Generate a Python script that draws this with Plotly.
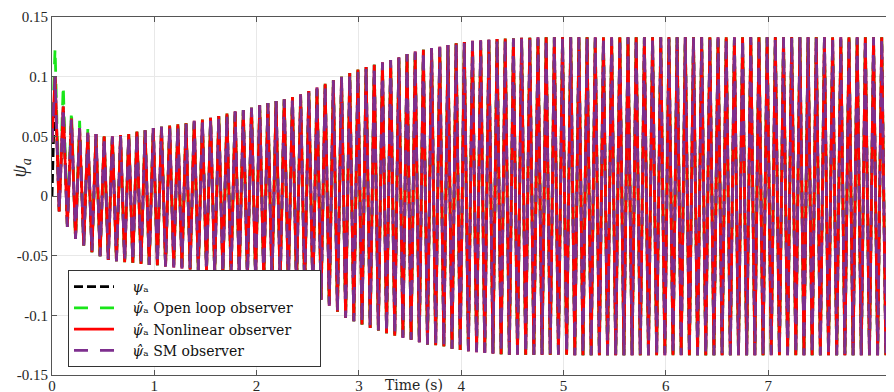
import plotly.graph_objects as go

# ---------------- data ----------------
period = 0.08          # s, one oscillation cycle
first_peak_t = 0.03    # s, time of the first upper peak

# upper peak value of each cycle (nonlinear / SM observer)
upper_peaks = [
    0.100, 0.075, 0.065, 0.057, 0.053, 0.052, 0.050, 0.050, 0.051, 0.052,
    0.054, 0.055, 0.057, 0.058, 0.059, 0.060, 0.061, 0.063, 0.064, 0.0655,
    0.067, 0.069, 0.071, 0.072, 0.074, 0.076, 0.078, 0.0795, 0.081, 0.083,
    0.085, 0.088, 0.091, 0.094, 0.097, 0.100, 0.103, 0.106, 0.108, 0.110,
    0.112, 0.114, 0.116, 0.119, 0.121, 0.1225, 0.124, 0.125, 0.1265, 0.128,
    0.129, 0.130, 0.1305, 0.131, 0.1315, 0.132, 0.132, 0.1325, 0.1325, 0.133,
    0.133, 0.133, 0.133, 0.133, 0.133, 0.133, 0.133, 0.133, 0.133, 0.133,
    0.133, 0.133, 0.133, 0.133, 0.133, 0.133, 0.133, 0.133, 0.133, 0.133,
    0.133, 0.133, 0.133, 0.133, 0.133, 0.133, 0.133, 0.133, 0.133, 0.133,
    0.133, 0.133, 0.133, 0.133, 0.133, 0.133, 0.133, 0.133, 0.133, 0.133,
    0.133, 0.133, 0.133,
]

# lower trough value of each cycle
lower_troughs = [
    -0.013, -0.026, -0.036, -0.0415, -0.047, -0.0505, -0.0535, -0.0546, -0.0555, -0.056,
    -0.057, -0.0577, -0.058, -0.059, -0.0598, -0.0607, -0.0616, -0.0625, -0.0633, -0.0644,
    -0.0652, -0.0664, -0.0675, -0.0686, -0.070, -0.0714, -0.0728, -0.0742, -0.0756, -0.077,
    -0.0784, -0.082, -0.087, -0.092, -0.097, -0.102, -0.105, -0.1077, -0.1105, -0.1127,
    -0.115, -0.117, -0.119, -0.1205, -0.1225, -0.1245, -0.125, -0.126, -0.128, -0.129,
    -0.130, -0.131, -0.1315, -0.132, -0.1325, -0.133, -0.133, -0.133, -0.133, -0.133,
    -0.133, -0.133, -0.133, -0.1335, -0.1335, -0.1335, -0.1335, -0.1335, -0.1335, -0.1335,
    -0.1335, -0.1335, -0.1335, -0.1335, -0.1335, -0.1335, -0.1335, -0.1335, -0.1335, -0.1335,
    -0.1335, -0.1335, -0.1335, -0.1335, -0.1335, -0.1335, -0.1335, -0.1335, -0.1335, -0.1335,
    -0.1335, -0.1335, -0.1335, -0.1335, -0.1335, -0.1335, -0.1335, -0.1335, -0.1335, -0.1335,
    -0.1335, -0.1335, -0.1335,
]

# open-loop observer overshoots on the first peaks
open_loop_early_peaks = [0.124, 0.093, 0.072, 0.063, 0.056]

start_true = 0.0        # psi_a at t = 0
start_observer = 0.045  # observers at t = 0

x_ticks = [0, 1, 2, 3, 4, 5, 6, 7]
y_ticks = [-0.15, -0.1, -0.05, 0, 0.05, 0.1, 0.15]
y_tick_text = ["-0.15", "-0.1", "-0.05", "0", "0.05", "0.1", "0.15"]


def build(start, ups, lows):
    t, y = [0.0], [start]
    for k in range(len(ups)):
        t.append(first_peak_t + k * period)
        y.append(ups[k])
        t.append(first_peak_t + (k + 0.5) * period)
        y.append(lows[k])
    return t, y


green_ups = open_loop_early_peaks + upper_peaks[len(open_loop_early_peaks):]

t_true, y_true = build(start_true, upper_peaks, lower_troughs)
t_ol, y_ol = build(start_observer, green_ups, lower_troughs)
t_nl, y_nl = build(start_observer, upper_peaks, lower_troughs)
t_sm, y_sm = build(start_observer, upper_peaks, lower_troughs)

TIMES = "Liberation Serif, Times New Roman, serif"
LATEX = "DejaVu Serif, serif"
NB = "\u00a0"
lead = NB * 3
trail = NB * 5
psi_leg = lead + "<i>ψ</i>ₐ"
psihat_leg = lead + "<i>ψ̂</i>ₐ"
psi_axis = "<i>ψ</i><sub><i>a</i></sub>"

LW = 2.8
fig = go.Figure()
fig.add_trace(go.Scatter(x=t_true, y=y_true, mode="lines", name=psi_leg,
                         line=dict(color="#000000", width=LW, dash="9px,4px")))
fig.add_trace(go.Scatter(x=t_ol, y=y_ol, mode="lines",
                         name=psihat_leg + " Open loop observer" + trail,
                         line=dict(color="#19e619", width=LW, dash="14px,12px")))
fig.add_trace(go.Scatter(x=t_nl, y=y_nl, mode="lines",
                         name=psihat_leg + " Nonlinear observer",
                         line=dict(color="#ff0000", width=LW)))
fig.add_trace(go.Scatter(x=t_sm, y=y_sm, mode="lines",
                         name=psihat_leg + " SM observer",
                         line=dict(color="#7e2f8e", width=LW, dash="14px,12px")))

# the page body has an 8px margin: plot area lands at x 52..894, y 17..375 on screen
fig.update_layout(
    width=894, height=392,
    margin=dict(l=44, r=8, t=9, b=25),
    paper_bgcolor="white", plot_bgcolor="white",
    font=dict(family=TIMES, size=15, color="#262626"),
    showlegend=True,
    legend=dict(x=0.019, y=0.022, xanchor="left", yanchor="bottom",
                bgcolor="white", bordercolor="#333333", borderwidth=1,
                font=dict(family=LATEX, size=14, color="#111111"),
                tracegroupgap=0, itemwidth=40),
    xaxis=dict(range=[0, 8.23], tickvals=x_ticks, ticktext=[str(v) for v in x_ticks],
               showgrid=True, gridcolor="#e8e8e8", gridwidth=1, zeroline=False,
               showline=True, linecolor="#555555", linewidth=1, mirror="ticks",
               ticks="inside", ticklen=5, tickcolor="#555555", ticklabelstandoff=-3,
               tickfont=dict(family=TIMES, size=15, color="#262626"), automargin=False),
    yaxis=dict(range=[-0.15, 0.15], tickvals=y_ticks, ticktext=y_tick_text,
               showgrid=True, gridcolor="#e8e8e8", gridwidth=1, zeroline=False,
               showline=True, linecolor="#555555", linewidth=1,
               ticks="inside", ticklen=5, tickcolor="#555555",
               tickfont=dict(family=TIMES, size=15, color="#262626"), automargin=False),
)

fig.add_annotation(text="Time (s)", xref="x", x=3.54, yref="paper", y=0, yshift=-10,
                   showarrow=False, yanchor="middle",
                   font=dict(family=LATEX, size=14, color="#262626"))
fig.add_annotation(text=psi_axis, xref="paper", x=0, xshift=-46, yref="paper", y=0.578,
                   showarrow=False, textangle=-90,
                   font=dict(family=TIMES, size=20, color="#262626"))

fig.write_html("out.html")
